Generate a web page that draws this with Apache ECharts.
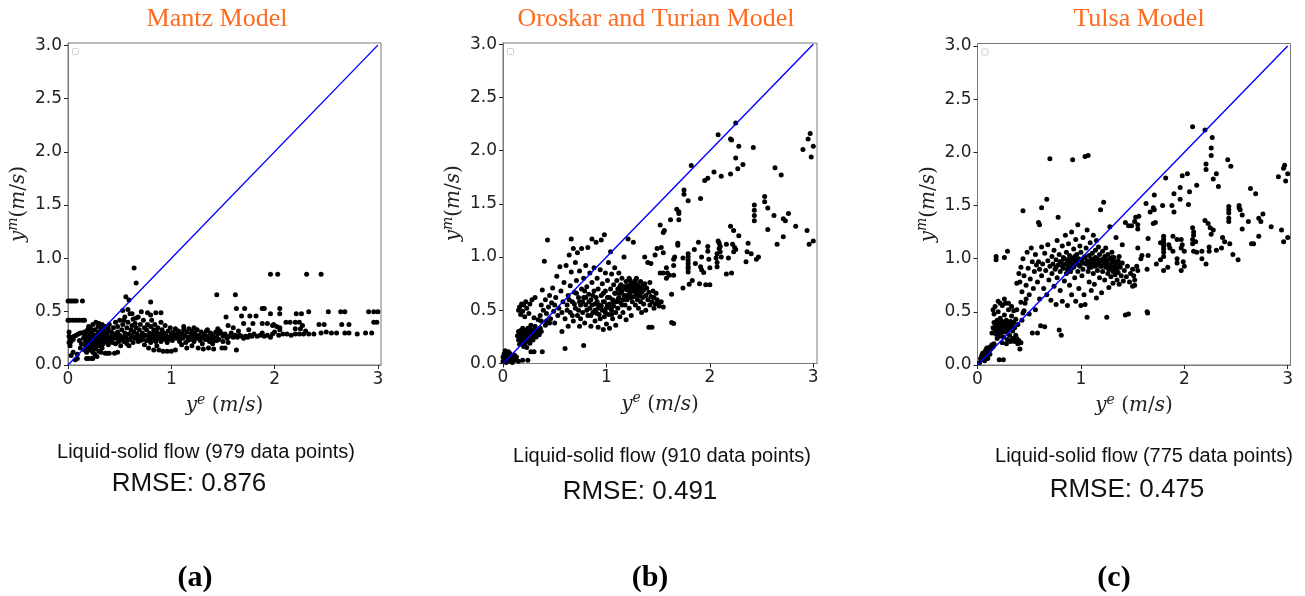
<!DOCTYPE html>
<html>
<head>
<meta charset="utf-8">
<script src="https://cdn.jsdelivr.net/npm/echarts@6.0.0/dist/echarts.min.js"></script>
<style>
  html, body { margin: 0; padding: 0; background: #ffffff; }
  #chart { width: 1305px; height: 596px; }
</style>
</head>
<body>
<div id="chart"></div>
<script>
// ---- text content ----
const panelTitles = ['Mantz Model', 'Oroskar and Turian Model', 'Tulsa Model'];
const pointCounts = [979, 910, 775];
const rmseValues = ['0.876', '0.491', '0.475'];
const panelTags = ['(a)', '(b)', '(c)'];

// ---- axis ticks ----
const xTickValues = [0, 1, 2, 3];
const yTickValues = [0, 0.5, 1, 1.5, 2, 2.5, 3];

// ---- y = x reference line ----
const parityLine = [[0, 0], [3, 3]];

// ---- measured (x) vs. predicted (y) velocities, m/s ----
const mantzPoints = [
  [0.64,0.91],[0.66,0.77],[0.56,0.64],[0.59,0.61],[0.80,0.59],
  [1.96,0.85],[2.03,0.85],[2.31,0.85],[2.45,0.85],[1.44,0.66],[1.62,0.66],
  [0.00,0.60],[0.02,0.60],[0.04,0.60],[0.06,0.60],[0.08,0.60],[0.14,0.60],
  [0.00,0.42],[0.02,0.42],[0.05,0.42],[0.08,0.42],[0.11,0.42],[0.14,0.42],[0.16,0.42],
  [1.53,0.45],[1.63,0.53],[1.68,0.46],[1.71,0.53],[1.76,0.46],[1.82,0.46],[1.88,0.53],[1.90,0.53],
  [1.96,0.48],[2.05,0.53],[2.05,0.48],[2.21,0.48],[2.26,0.48],[2.33,0.50],[2.52,0.50],[2.64,0.50],
  [2.68,0.50],[2.91,0.50],[2.96,0.50],[3.00,0.50],
  [1.70,0.39],[1.79,0.39],[1.88,0.39],[1.93,0.39],[1.99,0.38],[2.02,0.36],[2.11,0.40],[2.15,0.40],
  [2.20,0.40],[2.24,0.40],[2.20,0.34],[2.25,0.34],[2.27,0.37],[2.43,0.38],[2.48,0.38],[2.65,0.38],
  [2.72,0.38],[2.96,0.40],[2.99,0.40],[1.98,0.37],[2.05,0.33],[2.30,0.32],[2.05,0.35],[1.60,0.35],
  [1.55,0.37],[1.65,0.32],[1.75,0.33],
  [1.48,0.30],[1.50,0.27],[1.52,0.29],[1.54,0.25],[1.56,0.27],[1.58,0.30],[1.60,0.26],[1.62,0.28],
  [1.64,0.26],[1.66,0.28],[1.68,0.27],[1.70,0.25],[1.72,0.27],[1.74,0.26],[1.76,0.28],[1.78,0.27],
  [1.80,0.29],[1.83,0.27],[1.86,0.28],[1.88,0.30],[1.90,0.27],[1.93,0.28],[1.96,0.26],[1.98,0.29],
  [2.00,0.31],[2.04,0.28],[2.08,0.29],[2.12,0.29],[2.16,0.28],[2.20,0.29],[2.24,0.29],[2.28,0.29],
  [2.33,0.29],[2.38,0.29],[2.45,0.30],[2.50,0.31],[2.55,0.30],[2.60,0.30],[2.68,0.30],[2.72,0.30],
  [2.80,0.29],[2.88,0.30],[2.94,0.30],
  [1.49,0.16],[1.52,0.16],[1.63,0.14],[1.50,0.22],[1.55,0.21],
  [0.01,0.31],[0.01,0.27],[0.02,0.24],[0.01,0.21],[0.02,0.18],[0.03,0.22],[0.04,0.26],[0.05,0.24],
  [0.03,0.09],[0.06,0.27],[0.08,0.28],[0.10,0.29],[0.12,0.30],[0.14,0.30],[0.16,0.31],[0.19,0.31],
  [0.22,0.32],[0.05,0.12],[0.07,0.05],[0.09,0.10],[0.12,0.16],[0.13,0.20],[0.11,0.23],
  [0.09,0.06],[0.18,0.06],[0.20,0.06],[0.24,0.06],
  [0.16,0.14],[0.17,0.18],[0.17,0.22],[0.18,0.26],[0.18,0.12],[0.19,0.16],[0.20,0.20],[0.20,0.24],
  [0.21,0.28],[0.21,0.14],[0.22,0.18],[0.22,0.22],[0.23,0.26],[0.23,0.30],[0.24,0.12],[0.24,0.16],
  [0.25,0.20],[0.25,0.24],[0.26,0.28],[0.26,0.33],[0.27,0.15],[0.27,0.19],[0.28,0.23],[0.28,0.27],
  [0.29,0.31],[0.29,0.36],[0.30,0.13],[0.30,0.18],[0.31,0.22],[0.31,0.26],[0.32,0.30],[0.32,0.34],
  [0.33,0.38],[0.33,0.16],[0.34,0.20],[0.34,0.24],[0.35,0.28],[0.35,0.32],[0.36,0.36],[0.36,0.11],
  [0.37,0.22],[0.38,0.26],[0.38,0.30],[0.39,0.19],[0.39,0.34],[0.40,0.38],[0.40,0.11],[0.41,0.23],
  [0.42,0.27],[0.42,0.31],[0.43,0.21],[0.44,0.35],[0.44,0.25],[0.45,0.11],[0.45,0.29],[0.46,0.40],
  [0.20,0.36],[0.24,0.38],[0.27,0.40],[0.30,0.39],[0.22,0.34],[0.19,0.33],[0.26,0.10],[0.23,0.06],
  [0.28,0.08],[0.32,0.12],[0.15,0.25],[0.16,0.29],[0.38,0.11],[0.48,0.12],
  [0.46,0.20],[0.47,0.25],[0.48,0.31],[0.48,0.36],[0.49,0.22],[0.50,0.28],[0.50,0.42],[0.51,0.18],
  [0.52,0.33],[0.52,0.26],[0.53,0.38],[0.53,0.51],[0.54,0.22],[0.55,0.30],[0.55,0.45],[0.56,0.26],
  [0.57,0.35],[0.57,0.20],[0.58,0.40],[0.59,0.29],[0.60,0.24],[0.60,0.48],[0.61,0.33],[0.62,0.37],
  [0.62,0.27],[0.63,0.21],[0.63,0.43],[0.64,0.31],[0.65,0.25],[0.65,0.39],[0.66,0.35],[0.67,0.29],
  [0.68,0.22],[0.68,0.45],[0.69,0.33],[0.70,0.27],[0.70,0.38],[0.71,0.50],[0.72,0.30],[0.72,0.24],
  [0.73,0.42],[0.74,0.35],[0.74,0.19],[0.75,0.28],[0.54,0.42],[0.59,0.18],[0.66,0.44],[0.77,0.49],
  [0.80,0.47],[0.85,0.49],[0.90,0.49],[0.62,0.48],[0.58,0.52],
  [0.76,0.33],[0.76,0.23],[0.77,0.38],[0.78,0.27],[0.78,0.16],[0.79,0.30],[0.80,0.21],[0.80,0.36],
  [0.81,0.25],[0.81,0.42],[0.82,0.29],[0.83,0.14],[0.83,0.33],[0.84,0.23],[0.84,0.38],[0.85,0.27],
  [0.86,0.31],[0.86,0.18],[0.87,0.35],[0.88,0.25],[0.88,0.14],[0.89,0.29],[0.90,0.22],[0.90,0.40],
  [0.91,0.33],[0.92,0.27],[0.92,0.13],[0.93,0.30],[0.94,0.24],[0.94,0.37],[0.95,0.28],[0.96,0.21],
  [0.96,0.13],[0.97,0.32],[0.98,0.26],[0.99,0.35],[1.00,0.29],[1.00,0.13],[1.01,0.23],[1.02,0.31],
  [1.03,0.27],[1.04,0.34],[1.04,0.14],[1.05,0.25],
  [1.06,0.29],[1.07,0.32],[1.08,0.22],[1.09,0.27],[1.10,0.30],[1.11,0.25],[1.12,0.33],[1.13,0.28],
  [1.14,0.21],[1.15,0.31],[1.16,0.26],[1.17,0.34],[1.18,0.24],[1.19,0.29],[1.20,0.32],[1.21,0.27],
  [1.22,0.22],[1.23,0.30],[1.24,0.25],[1.25,0.33],[1.26,0.16],[1.27,0.28],[1.28,0.23],[1.29,0.31],
  [1.30,0.26],[1.31,0.15],[1.32,0.29],[1.33,0.24],[1.34,0.32],[1.35,0.27],[1.36,0.16],[1.37,0.22],
  [1.38,0.30],[1.39,0.25],[1.40,0.28],[1.41,0.15],[1.42,0.23],[1.43,0.31],[1.44,0.26],[1.45,0.29],
  [1.46,0.24],[1.47,0.32],[1.10,0.19],[1.20,0.18],[1.15,0.16],[1.30,0.20],[1.40,0.20],[1.35,0.33],
  [1.22,0.35],[1.12,0.36],[1.45,0.34],
  [0.21,0.24],[0.23,0.20],[0.25,0.28],[0.27,0.22],[0.29,0.27],[0.31,0.19],[0.33,0.28],[0.35,0.22],
  [0.37,0.27],[0.40,0.25],[0.43,0.29],[0.47,0.28],[0.51,0.24],[0.55,0.26],[0.58,0.24],[0.61,0.28],
  [0.64,0.26],[0.67,0.25],[0.70,0.23],[0.73,0.27],[0.79,0.24],[0.82,0.26],[0.85,0.22],[0.88,0.28],
  [0.91,0.25],[0.94,0.27],[0.97,0.24],[1.01,0.27],[1.05,0.28],[1.08,0.25],[1.12,0.27],[1.16,0.23],
  [1.19,0.25],[1.23,0.27],[1.27,0.25],[1.32,0.26],[1.36,0.24],[1.40,0.25],[1.44,0.23]
];

const oroskarPoints = [
  [0.00,0.02],[0.01,0.05],[0.01,0.09],[0.02,0.03],[0.02,0.07],[0.03,0.10],[0.03,0.01],[0.04,0.05],
  [0.04,0.08],[0.05,0.03],[0.05,0.11],[0.06,0.06],[0.07,0.02],[0.07,0.09],[0.08,0.05],[0.09,0.07],
  [0.10,0.04],[0.11,0.08],[0.12,0.03],[0.02,0.12],[0.00,0.06],[0.06,0.10],[0.09,0.01],[0.13,0.06],
  [0.15,0.02],
  [0.14,0.26],[0.15,0.22],[0.15,0.30],[0.16,0.18],[0.16,0.27],[0.17,0.24],[0.17,0.31],[0.18,0.20],
  [0.18,0.28],[0.19,0.25],[0.19,0.33],[0.20,0.22],[0.20,0.29],[0.21,0.26],[0.21,0.18],[0.22,0.31],
  [0.22,0.24],[0.23,0.28],[0.23,0.21],[0.24,0.26],[0.24,0.33],[0.25,0.23],[0.25,0.30],[0.26,0.27],
  [0.26,0.19],[0.27,0.32],[0.27,0.24],[0.28,0.29],[0.29,0.26],[0.29,0.22],[0.30,0.31],[0.31,0.28],
  [0.32,0.25],[0.33,0.32],[0.34,0.29],[0.35,0.27],[0.36,0.33],[0.37,0.30],[0.31,0.35],[0.27,0.36],
  [0.20,0.16],[0.23,0.15],[0.30,0.11],[0.27,0.11],[0.38,0.11],[0.19,0.03],[0.24,0.03],[0.41,0.36],
  [0.42,0.40],[0.45,0.38],
  [0.15,0.50],[0.16,0.53],[0.17,0.46],[0.18,0.56],[0.19,0.49],[0.20,0.55],[0.21,0.44],[0.22,0.58],
  [0.23,0.52],[0.25,0.47],[0.26,0.56],[0.28,0.60],[0.30,0.43],[0.31,0.62],[0.34,0.41],[0.37,0.40],
  [0.36,0.45],[0.37,0.55],[0.38,0.69],[0.39,0.50],[0.40,0.96],[0.41,0.60],[0.42,0.47],[0.43,1.16],
  [0.44,0.53],[0.45,0.64],[0.46,0.42],[0.47,0.57],[0.48,0.71],[0.49,0.49],[0.50,0.55],[0.50,0.38],
  [0.51,0.62],[0.52,0.82],[0.53,0.45],[0.54,0.52],[0.55,0.91],[0.56,0.68],[0.57,0.48],[0.57,0.30],
  [0.58,0.58],[0.59,0.76],[0.60,0.14],[0.60,0.42],[0.61,0.92],[0.62,0.55],[0.63,0.64],[0.63,0.35],
  [0.64,1.02],[0.65,0.48],[0.65,0.73],[0.66,0.86],[0.66,1.17],[0.67,0.58],[0.68,1.08],[0.68,0.40],
  [0.69,0.67],[0.70,0.52],[0.70,0.95],
  [0.71,0.78],[0.72,0.45],[0.72,1.04],[0.73,0.62],[0.74,0.35],[0.74,0.87],[0.75,0.55],[0.76,0.70],
  [0.76,1.08],[0.77,0.48],[0.78,0.17],[0.78,0.80],[0.78,0.62],[0.79,0.38],[0.80,0.55],[0.80,0.92],
  [0.81,0.72],[0.82,0.45],[0.82,1.09],[0.83,0.65],[0.84,0.52],[0.84,0.85],[0.85,0.35],[0.85,0.60],
  [0.86,0.76],[0.86,1.17],[0.87,0.48],[0.88,0.68],[0.88,0.90],[0.89,0.56],[0.89,0.40],[0.90,1.14],
  [0.90,0.62],[0.91,0.80],[0.91,0.47],[0.92,0.34],[0.92,0.70],[0.93,0.55],[0.94,0.88],[0.94,0.42],
  [0.95,0.64],[0.95,1.16],[0.96,0.50],[0.96,0.75],[0.97,0.32],[0.97,0.58],[0.98,1.21],[0.98,0.44],
  [0.99,0.68],[0.99,0.85],[1.00,0.52],[1.00,0.37],[1.01,0.62],[1.01,0.78],[1.02,0.46],[1.02,0.95],
  [1.03,0.56],[1.03,0.33],[1.04,0.70],[1.04,1.05],[1.05,0.50],[1.05,0.84],[1.06,0.60],[1.06,0.42],
  [1.07,0.74],[1.07,0.54],[1.08,0.66],[1.08,0.90],[1.09,0.48],[1.09,0.36],[1.10,0.58],[1.10,0.78],
  [1.11,0.70],[1.11,0.52],[1.12,0.62],[1.12,0.85],[1.13,0.66],[1.13,0.44],[1.14,0.74],[1.14,0.57],
  [1.15,0.68],[1.15,0.80],[1.16,0.60],[1.16,0.48],[1.17,0.72],[1.17,1.00],[1.18,0.64],[1.18,0.55],
  [1.19,0.77],[1.19,0.41],[1.20,0.69],[1.20,0.60],[1.21,0.73],[1.21,1.17],[1.22,0.65],[1.22,0.52],
  [1.23,0.78],[1.23,0.70],[1.24,0.62],[1.24,0.45],[1.25,0.74],[1.25,0.58],[1.26,0.68],[1.26,1.14],
  [1.27,0.76],[1.27,0.63],[1.28,0.55],[1.28,0.71],[1.29,0.66],[1.29,0.80],[1.30,0.60],[1.30,0.74],
  [1.31,0.69],[1.31,0.52],[1.32,0.72],[1.32,0.64],[1.33,0.77],[1.33,0.58],[1.34,0.67],[1.34,0.48],
  [1.35,0.73],[1.35,0.62],
  [1.36,0.69],[1.36,0.56],[1.37,0.75],[1.37,1.00],[1.38,0.64],[1.38,0.50],[1.39,0.71],[1.40,0.60],
  [1.40,0.95],[1.41,0.67],[1.41,0.34],[1.42,0.55],[1.42,0.76],[1.43,0.63],[1.43,0.94],[1.44,0.58],
  [1.44,0.34],[1.45,0.68],[1.46,0.62],[1.46,0.52],[1.47,0.56],[1.47,1.02],[1.48,0.66],[1.49,0.60],
  [1.49,1.08],[1.50,0.57],[1.51,0.54],[1.52,0.85],[1.52,1.30],[1.53,0.58],[1.55,0.53],[1.55,1.23],
  [1.56,1.25],[1.53,1.09],
  [0.62,0.50],[0.64,0.60],[0.67,0.45],[0.69,0.56],[0.71,0.66],[0.73,0.50],[0.75,0.42],[0.77,0.58],
  [0.79,0.68],[0.81,0.50],[0.83,0.58],[0.85,0.45],[0.87,0.64],[0.89,0.50],[0.91,0.58],[0.93,0.46],
  [0.95,0.54],[0.97,0.66],[0.99,0.48],[1.01,0.55],[1.03,0.62],[1.05,0.46],[1.07,0.58],[1.09,0.66],
  [1.11,0.60],[1.13,0.72],[1.15,0.55],[1.17,0.64],[1.19,0.70],[1.21,0.62],[1.23,0.66],[1.25,0.70],
  [1.27,0.68],[1.29,0.73],[1.31,0.64],[1.33,0.70],[1.18,0.72],[1.24,0.75],[1.28,0.78],[1.22,0.80],
  [0.92,0.52],[0.98,0.58],[1.04,0.52],[0.86,0.55],[0.80,0.62],[0.74,0.58],
  [1.55,1.04],[1.58,0.90],[1.55,0.85],[1.59,0.85],[1.61,0.83],[1.58,0.80],[1.65,0.83],[1.65,0.92],
  [1.65,0.98],[1.66,1.00],[1.69,1.13],[1.69,1.11],[1.63,0.65],[1.63,0.385],[1.65,0.375],[1.62,1.35],
  [1.68,1.45],[1.70,1.425],[1.70,1.41],[1.70,1.35],[1.74,0.99],[1.74,0.71],[1.75,1.63],[1.75,1.59],
  [1.79,1.53],[1.79,1.03],[1.79,1.00],[1.79,0.97],[1.79,0.94],[1.79,0.91],[1.79,0.89],[1.79,0.86],
  [1.80,0.745],[1.82,1.86],[1.83,0.78],[1.85,1.07],[1.86,0.94],[1.89,1.14],[1.90,0.75],[1.91,1.55],
  [1.91,0.91],[1.92,0.88],[1.92,1.00],[1.94,0.855],[1.95,1.72],[1.96,0.74],[1.98,1.74],[1.98,1.10],
  [1.98,1.055],[1.99,0.98],[2.00,0.90],[2.00,0.74],[2.04,1.80],[2.08,2.15],[2.08,1.15],[2.09,1.13],
  [2.10,1.10],[2.09,1.08],[2.10,1.05],[2.07,1.03],[2.06,0.99],[2.07,0.95],[2.07,0.91],[2.11,1.76],
  [2.11,1.00],[2.16,1.12],[2.18,0.99],[2.16,0.84],[2.21,0.85],[2.20,2.11],[2.21,2.10],[2.20,1.78],
  [2.20,1.29],[2.23,1.25],[2.22,1.12],[2.24,1.09],[2.25,1.07],[2.23,1.05],[2.25,2.26],[2.25,1.93],
  [2.27,1.83],[2.28,2.04],[2.28,1.20],[2.32,1.87],[2.35,0.955],[2.36,1.05],[2.37,1.13],[2.40,1.03],
  [2.42,2.03],[2.43,1.49],[2.43,1.44],[2.43,1.39],[2.43,1.34],[2.45,0.98],[2.47,1.00],[2.53,1.57],
  [2.53,1.52],[2.56,1.46],[2.56,1.26],[2.62,1.39],[2.63,1.84],[2.65,1.12],[2.69,1.77],[2.71,1.36],
  [2.71,1.19],[2.73,1.34],[2.76,1.41],[2.83,1.29],[2.90,2.01],[2.94,1.25],[2.95,2.11],[2.97,2.16],
  [2.96,1.12],[2.98,1.94],[3.00,2.04],[3.00,1.15]
];

const tulsaPoints = [
  [0.03,0.06],[0.04,0.09],[0.05,0.07],[0.05,0.11],[0.06,0.05],[0.06,0.09],[0.07,0.12],[0.08,0.08],
  [0.08,0.14],[0.09,0.11],[0.10,0.15],[0.10,0.06],[0.11,0.13],[0.12,0.17],[0.13,0.15],[0.14,0.19],
  [0.15,0.17],[0.16,0.20],[0.07,0.04],[0.09,0.16],[0.12,0.10],[0.04,0.05],[0.21,0.05],[0.25,0.05],
  [0.02,0.02],
  [0.15,0.52],[0.16,0.48],[0.17,0.55],[0.17,0.33],[0.18,0.37],[0.18,0.29],[0.19,0.42],[0.19,0.31],
  [0.20,0.35],[0.20,0.50],[0.21,0.38],[0.21,0.27],[0.22,0.33],[0.22,0.44],[0.23,0.36],[0.23,0.30],
  [0.24,0.41],[0.24,0.56],[0.25,0.34],[0.25,0.26],[0.26,0.38],[0.26,0.47],[0.27,0.31],[0.27,0.58],
  [0.28,0.36],[0.28,0.42],[0.29,0.33],[0.29,0.24],[0.30,0.39],[0.30,0.52],[0.31,0.35],[0.31,0.28],
  [0.32,0.41],[0.32,0.22],[0.33,0.37],[0.33,0.46],[0.34,0.32],[0.34,0.25],[0.35,0.40],[0.35,0.51],
  [0.36,0.22],[0.36,0.35],[0.37,0.28],[0.37,0.43],[0.38,0.25],[0.39,0.20],[0.39,0.38],[0.40,0.23],
  [0.41,0.15],[0.42,0.21],[0.43,0.42],[0.44,0.49],[0.19,0.25],[0.16,0.40],[0.24,0.21],[0.28,0.20],
  [0.20,0.60],[0.22,0.58],[0.26,0.62],[0.30,0.58],[0.33,0.55],[0.38,0.52],[0.42,0.59],[0.15,0.35],
  [0.14,0.30],
  [0.18,0.34],[0.20,0.40],[0.22,0.37],[0.24,0.35],[0.26,0.33],[0.21,0.32],[0.25,0.40],[0.27,0.36],
  [0.23,0.33],[0.19,0.38],
  [0.18,1.02],[0.18,0.99],[0.26,1.01],[0.29,1.07],[0.44,1.45],[0.67,1.56],[0.62,1.48],[0.59,1.34],
  [0.60,1.32],[0.38,0.77],[0.40,0.86],[0.41,0.78],[0.42,0.92],[0.43,0.69],[0.44,1.00],[0.45,0.84],
  [0.46,0.58],[0.47,0.75],[0.48,1.06],[0.49,0.91],[0.50,0.66],[0.51,0.81],[0.52,1.10],[0.53,0.30],
  [0.53,0.97],[0.54,0.72],[0.55,0.88],[0.56,0.52],[0.56,1.04],[0.57,0.94],[0.58,0.30],[0.58,0.78],
  [0.59,0.97],[0.60,0.62],[0.60,0.90],[0.61,0.37],[0.62,1.11],[0.62,0.84],[0.63,0.95],[0.64,0.72],
  [0.65,0.36],[0.65,1.05],[0.66,0.89],[0.67,0.66],[0.68,1.13],[0.68,0.98],[0.69,0.80],[0.70,0.93],
  [0.70,1.94],[0.45,0.51],[0.50,0.48],[0.47,0.62],
  [0.71,0.61],[0.72,1.02],[0.72,0.86],[0.73,0.95],[0.74,0.74],[0.74,1.08],[0.75,0.90],[0.76,0.99],
  [0.76,0.57],[0.77,1.17],[0.77,0.82],[0.78,0.94],[0.78,1.39],[0.79,0.33],[0.79,1.04],[0.80,0.88],
  [0.80,0.70],[0.81,0.28],[0.81,0.97],[0.82,1.12],[0.82,0.60],[0.83,0.91],[0.83,1.01],[0.84,0.79],
  [0.85,0.95],[0.85,1.22],[0.86,0.86],[0.86,1.06],[0.87,0.56],[0.87,0.99],[0.88,0.92],[0.88,1.14],
  [0.89,0.75],[0.89,1.03],[0.90,0.96],[0.90,0.88],[0.91,1.25],[0.91,0.66],[0.92,1.00],[0.92,1.93],
  [0.93,0.92],[0.93,1.09],[0.94,0.82],[0.94,0.98],[0.95,1.18],[0.95,0.60],[0.96,0.95],[0.96,1.04],
  [0.97,0.88],[0.97,1.32],[0.98,1.00],[0.98,0.72],[0.99,0.93],[0.99,1.12],[1.00,0.56],[1.00,1.06],
  [1.01,0.97],[1.01,0.84],[1.02,1.20],[1.02,0.90],[1.03,1.01],[1.03,0.66],[1.04,1.96],[1.04,0.57],
  [1.05,0.95],[1.05,1.10],[1.06,0.45],[1.06,1.27],[1.07,1.97],[1.07,0.88],[1.08,1.03],[1.08,0.78],
  [1.09,0.96],[1.09,1.15],[1.10,0.92],[1.10,0.70],
  [1.11,1.05],[1.12,0.86],[1.12,1.22],[1.13,0.98],[1.13,0.76],[1.14,1.08],[1.14,0.93],[1.15,1.17],
  [1.15,0.63],[1.16,1.00],[1.16,0.89],[1.17,1.11],[1.17,0.96],[1.18,0.82],[1.18,1.04],[1.19,1.46],
  [1.19,0.93],[1.20,0.99],[1.20,0.68],[1.21,1.07],[1.21,0.88],[1.22,1.53],[1.22,0.96],[1.23,1.02],
  [1.23,0.80],[1.24,0.92],[1.24,1.10],[1.25,0.45],[1.25,0.98],[1.26,0.86],[1.26,1.04],[1.27,0.94],
  [1.27,0.73],[1.28,1.30],[1.28,1.00],[1.29,0.90],[1.29,0.83],[1.30,0.97],[1.30,1.06],[1.31,0.88],
  [1.31,0.77],[1.32,1.01],[1.32,0.93],[1.33,0.85],[1.34,0.96],[1.34,1.20],[1.35,0.80],[1.35,0.91],
  [1.36,0.87],[1.37,1.02],[1.37,0.76],[1.38,0.92],[1.39,0.84],[1.40,0.96],[1.40,1.13],[1.41,0.79],
  [1.42,0.89],[1.43,0.47],[1.43,1.34],[1.44,0.83],[1.45,0.93],[1.46,1.31],[1.46,0.48],[1.47,0.78],
  [1.48,0.86],[1.49,1.31],[1.50,0.90],[1.50,0.74],[1.51,0.84],[1.52,0.80],[1.52,1.35],[1.53,1.39],
  [0.76,0.92],[0.80,0.97],[0.82,0.93],[0.84,1.00],[0.86,0.95],[0.88,0.98],[0.90,1.01],[0.92,0.94],
  [0.94,1.02],[0.96,0.98],[0.98,0.94],[1.00,0.99],[1.02,0.96],[1.04,1.02],[1.06,0.98],[1.08,0.92],
  [1.10,1.00],[1.12,0.95],[1.14,1.01],[1.16,0.95],[1.18,0.98],[1.20,0.93],[1.22,1.00],[1.24,0.96],
  [1.26,0.99],[1.28,0.94],[1.30,1.01],[1.32,0.97],[1.34,0.92],[1.36,0.98],[1.38,0.95],[0.87,0.90],
  [0.91,0.91],[1.27,0.90],[1.33,0.89],
  [1.55,1.32],[1.55,1.28],[1.56,1.40],[1.55,1.10],[1.58,1.00],[1.59,1.03],[1.54,0.93],[1.55,0.89],
  [1.52,0.75],[1.64,0.50],[1.645,0.49],[1.63,1.52],[1.64,0.90],[1.65,1.03],[1.65,1.19],[1.67,1.44],
  [1.70,1.48],[1.71,1.46],[1.70,1.33],[1.71,1.60],[1.72,1.34],[1.73,0.95],[1.77,0.99],[1.77,1.15],
  [1.79,1.50],[1.80,1.21],[1.80,1.18],[1.80,1.15],[1.80,1.12],[1.80,1.09],[1.80,1.06],[1.80,1.02],
  [1.80,0.89],[1.82,1.76],[1.84,0.92],[1.85,1.13],[1.86,1.10],[1.88,1.50],[1.89,1.07],[1.89,1.21],
  [1.90,1.44],[1.90,1.61],[1.93,1.18],[1.93,1.00],[1.93,0.96],[1.96,1.67],[1.96,1.56],[1.97,1.18],
  [1.97,0.89],[1.98,1.13],[1.97,1.10],[1.98,1.78],[1.99,0.97],[2.00,0.93],[2.00,1.07],[2.03,1.80],
  [2.04,1.51],[2.05,1.63],[2.08,2.24],[2.08,1.29],[2.09,1.25],[2.09,1.22],[2.08,1.18],[2.11,1.16],
  [2.08,1.14],[2.09,1.07],[2.12,1.06],[2.12,1.69],[2.17,1.07],[2.17,1.00],[2.20,2.21],[2.21,1.89],
  [2.21,1.84],[2.20,1.36],[2.21,0.95],[2.23,1.33],[2.24,1.11],[2.24,1.07],[2.25,1.29],[2.26,2.04],
  [2.26,1.97],[2.27,2.14],[2.26,1.23],[2.28,1.27],[2.28,1.75],[2.31,1.80],[2.31,1.08],[2.33,1.68],
  [2.36,1.10],[2.37,1.20],[2.39,1.16],[2.42,1.93],[2.43,1.49],[2.43,1.46],[2.43,1.43],[2.43,1.38],
  [2.43,1.35],[2.44,1.14],[2.45,1.87],[2.47,1.04],[2.52,0.99],[2.53,1.50],[2.53,1.48],[2.54,1.46],
  [2.56,1.41],[2.56,1.28],[2.62,1.35],[2.64,1.66],[2.65,1.14],[2.67,1.14],[2.69,1.61],[2.72,1.38],
  [2.72,1.21],[2.74,1.35],[2.76,1.42],[2.84,1.30],[2.91,1.77],[2.94,1.27],[2.96,1.85],[2.97,1.88],
  [2.96,1.16],[2.98,1.73],[3.00,1.80],[3.00,1.20]
];

const panelData = [mantzPoints, oroskarPoints, tulsaPoints];

// ---- page layout for the three panels ----
const layout = [
  { grid: { left: 68,    top: 43,   width: 313, height: 322   }, xMax: 3.03, yMax: 3.02,
    titleX: 217, captionX: 206, captionY: 452, rmseX: 189, rmseY: 484, tagX: 195 },
  { grid: { left: 503,   top: 43,   width: 314, height: 320.5 }, xMax: 3.036, yMax: 3.011,
    titleX: 656, captionX: 662, captionY: 456, rmseX: 640, rmseY: 492, tagX: 650 },
  { grid: { left: 977.5, top: 43.5, width: 313, height: 321.5 }, xMax: 3.027, yMax: 3.024,
    titleX: 1139, captionX: 1144, captionY: 456, rmseX: 1127, rmseY: 490, tagX: 1114 }
];

const ink = '#222';
const mathRich = {
  it:  { fontFamily: 'DejaVu Serif', fontStyle: 'italic', fontSize: 20, color: ink, lineHeight: 26 },
  n:   { fontFamily: 'DejaVu Serif', fontSize: 20, color: ink, lineHeight: 26 },
  sup: { fontFamily: 'DejaVu Serif', fontStyle: 'italic', fontSize: 14, color: ink, lineHeight: 12, verticalAlign: 'top' }
};

const grids = [], xAxes = [], yAxes = [], series = [], graphics = [];

layout.forEach((p, i) => {
  grids.push(Object.assign({ show: true, borderColor: '#7a7a7a', borderWidth: 1, containLabel: false }, p.grid));

  xAxes.push({
    type: 'value', gridIndex: i, min: 0, max: p.xMax,
    axisLine: { show: true, onZero: false, lineStyle: { color: '#7a7a7a', width: 1 } },
    axisTick: { show: true, customValues: xTickValues, length: 4, lineStyle: { color: ink } },
    axisLabel: { customValues: xTickValues, margin: 6, fontFamily: 'DejaVu Sans', fontSize: 17, color: ink,
                 formatter: v => String(v) },
    splitLine: { show: false },
    name: '{it|y}{sup|e}{n| (}{it|m}{n|/}{it|s}{n|)}',
    nameLocation: 'middle', nameGap: 25,
    nameTextStyle: { rich: mathRich }
  });

  yAxes.push({
    type: 'value', gridIndex: i, min: 0, max: p.yMax,
    axisLine: { show: true, onZero: false, lineStyle: { color: '#7a7a7a', width: 1 } },
    axisTick: { show: true, customValues: yTickValues, length: 4, lineStyle: { color: ink } },
    axisLabel: { customValues: yTickValues, margin: 6, fontFamily: 'DejaVu Sans', fontSize: 17, color: ink,
                 formatter: v => v.toFixed(1) },
    splitLine: { show: false },
    name: '{it|y}{sup|m}{n|(}{it|m}{n|/}{it|s}{n|)}',
    nameLocation: 'middle', nameGap: 36, nameRotate: 90,
    nameTextStyle: { rich: mathRich }
  });

  series.push({
    type: 'scatter', xAxisIndex: i, yAxisIndex: i,
    data: panelData[i], symbol: 'circle', symbolSize: 5,
    itemStyle: { color: '#000000', opacity: 1 }, silent: true, z: 2
  });
  series.push({
    type: 'line', xAxisIndex: i, yAxisIndex: i,
    data: parityLine, symbol: 'none', silent: true, z: 3,
    lineStyle: { color: '#0000ff', width: 1.4 }
  });

  // empty legend frame in the upper-left corner of each plot
  graphics.push({
    type: 'rect', silent: true,
    shape: { x: p.grid.left + 4.5, y: p.grid.top + 5.5, width: 6, height: 6, r: 1 },
    style: { fill: 'none', stroke: '#d0d0d0', lineWidth: 1 }
  });

  graphics.push({
    type: 'text', x: p.titleX, y: 19,
    style: { text: panelTitles[i], fill: '#ff6a1f', font: '26px "Liberation Serif"',
             textAlign: 'center', textVerticalAlign: 'middle' }
  });
  graphics.push({
    type: 'text', x: p.captionX, y: p.captionY,
    style: { text: 'Liquid-solid flow (' + pointCounts[i] + ' data points)', fill: '#111',
             font: '20px "Liberation Sans"', textAlign: 'center', textVerticalAlign: 'middle' }
  });
  graphics.push({
    type: 'text', x: p.rmseX, y: p.rmseY,
    style: { text: 'RMSE: ' + rmseValues[i], fill: '#111',
             font: '26px "Liberation Sans"', textAlign: 'center', textVerticalAlign: 'middle' }
  });
  graphics.push({
    type: 'text', x: p.tagX, y: 578,
    style: { text: panelTags[i], fill: '#000',
             font: 'bold 30px "Liberation Serif"', textAlign: 'center', textVerticalAlign: 'middle' }
  });
});

const chart = echarts.init(document.getElementById('chart'), null, { renderer: 'canvas' });
chart.setOption({
  animation: false,
  backgroundColor: '#ffffff',
  grid: grids,
  xAxis: xAxes,
  yAxis: yAxes,
  series: series,
  graphic: graphics
});
</script>
</body>
</html>
